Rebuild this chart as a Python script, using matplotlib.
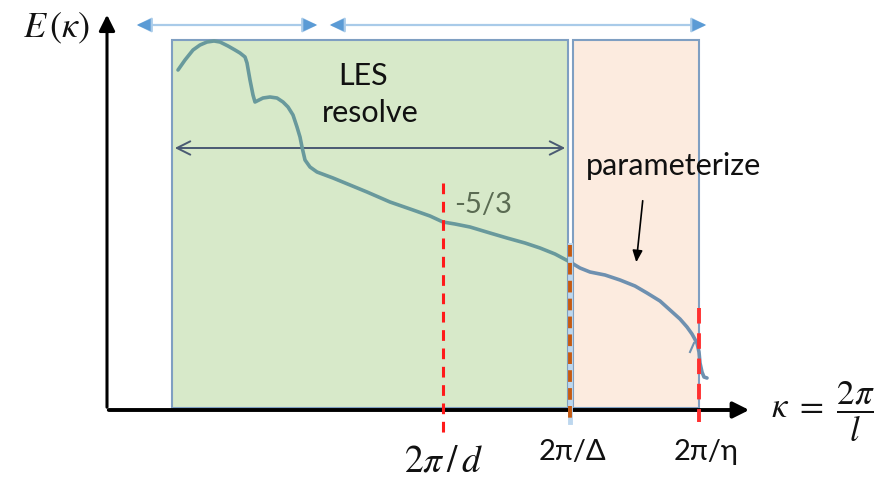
import matplotlib
matplotlib.use("Agg")
import matplotlib.pyplot as plt
from matplotlib.patches import Rectangle, FancyArrowPatch

plt.rcParams['mathtext.fontset'] = 'stix'

# schematic spectrum (coordinates in picture units, y downward)
curve_k = [178, 185, 193, 200, 207, 214, 220, 228, 235, 240, 245, 247, 250, 253, 255,
           259, 263, 270, 277, 283, 288, 293, 297, 300, 302, 305, 310, 317, 325, 333,
           350, 367, 390, 413, 430, 443, 455, 470, 490, 507, 525, 540, 555, 570]
curve_E = [70, 60, 50, 45, 42, 41, 42, 46, 50, 53, 57, 63, 80, 95, 102,
           100, 98, 97, 98, 102, 107, 115, 127, 137, 147, 160, 167, 172, 175, 178,
           185, 192, 202, 210, 216, 222, 224, 227, 233, 238, 243, 248, 254, 262]
sub_k = [570, 580, 590, 605, 620, 635, 647, 660, 670, 680, 687, 692, 697, 699, 700, 702, 704, 707]
sub_E = [262, 268, 272, 275, 280, 286, 293, 301, 310, 319, 327, 334, 343, 352, 363, 372, 377, 378]

k_d, k_delta, k_eta = 443, 570, 699
box_top, axis_y = 40, 408

fig = plt.figure(figsize=(8.92, 4.83), dpi=100)
ax = fig.add_axes([0, 0, 1, 1])
ax.set_xlim(0, 892)
ax.set_ylim(483, 0)
ax.axis('off')

# regions
ax.add_patch(Rectangle((172, box_top), k_delta - 2 - 172, axis_y - box_top,
                       facecolor='#d7e9c9', edgecolor='#7f9fc2', lw=1.5, zorder=1))
ax.add_patch(Rectangle((k_delta + 3, box_top), k_eta - k_delta - 3, axis_y - box_top,
                       facecolor='#fcebdf', edgecolor='#7f9fc2', lw=1.5, zorder=1))

# axes arrows
ax.add_patch(FancyArrowPatch((107, 410), (107, 12), arrowstyle='-|>,head_length=6,head_width=3',
                             mutation_scale=1.6, lw=2.2, color='black', zorder=5))
ax.add_patch(FancyArrowPatch((106, 410), (752, 410), arrowstyle='-|>,head_length=6,head_width=3',
                             mutation_scale=1.6, lw=2.8, color='black', zorder=5))

# top double arrows
for x0, x1 in [(134, 320), (327, 709)]:
    ax.add_patch(FancyArrowPatch((x0, 25), (x1, 25), arrowstyle='<|-|>,head_length=5,head_width=2.5',
                                 mutation_scale=1.8, lw=1.6, color='#a9cbe9', zorder=3))
    ax.annotate('', xy=(x0, 25), xytext=(x0 + 12, 25),
                arrowprops=dict(arrowstyle='-|>,head_length=1.0,head_width=0.45', color='#5b9bd5', lw=0))
    ax.annotate('', xy=(x1, 25), xytext=(x1 - 12, 25),
                arrowprops=dict(arrowstyle='-|>,head_length=1.0,head_width=0.45', color='#5b9bd5', lw=0))

# inner resolve arrow
ax.add_patch(FancyArrowPatch((172, 148), (568, 148), arrowstyle='<->,head_length=6,head_width=3',
                             mutation_scale=1.6, lw=1.4, color='#4a5a72', zorder=3))

# spectrum curve
ax.plot(curve_k, curve_E, color='#68999c', lw=2.6, solid_capstyle='round', zorder=4)
ax.plot(sub_k, sub_E, color='#6e90b0', lw=2.6, solid_capstyle='round', zorder=4)
ax.plot([694, 690], [343, 352], color='#6e90b0', lw=1.5, zorder=4)

# cutoff lines
ax.plot([k_d, k_d], [183, 437], color='#ff1a1a', lw=2.2, ls=(0, (3.5, 2.5)), zorder=6)
ax.plot([k_delta, k_delta], [245, 422], color='#bdd7ee', lw=3.5, zorder=6)
ax.plot([k_delta, k_delta], [245, 422], color='#c55a11', lw=2.8, ls=(0, (3, 1.6)), zorder=6)
ax.plot([k_eta, k_eta], [308, 422], color='#ff3030', lw=2.8, ls=(0, (4, 2.5)), zorder=6)

# parameterize arrow
ax.annotate('', xy=(636, 265), xytext=(643, 198),
            arrowprops=dict(arrowstyle='-|>,head_length=0.7,head_width=0.3', color='black', lw=1.2))

# texts
txtfam = ['Lato', 'DejaVu Sans']
ax.text(363, 76, 'LES', fontsize=22, family=txtfam, ha='center', va='center', color='#111111')
ax.text(370, 113, 'resolve', fontsize=22, family=txtfam, ha='center', va='center', color='#111111')
ax.text(586, 166, 'parameterize', fontsize=22, family=txtfam, ha='left', va='center', color='#111111')
ax.text(454, 205, '-5/3', fontsize=21, family=txtfam, ha='left', va='center', color='#5a6b52')
ax.text(572, 452, '2π/Δ', fontsize=21, family=txtfam, ha='center', va='center', color='#111111')
ax.text(706, 452, '2π/η', fontsize=21, family=txtfam, ha='center', va='center', color='#111111')
ax.text(443, 462, r'$2\pi\,/\,d$', fontsize=27, ha='center', va='center', color='#111111')
ax.text(56, 28, r'$E\,(\kappa)$', fontsize=26, ha='center', va='center', color='#111111')
ax.text(823, 412, r'$\kappa\ =\ \dfrac{2\pi}{l}$', fontsize=25, ha='center', va='center', color='#111111')

fig.savefig('out.png', dpi=100)
